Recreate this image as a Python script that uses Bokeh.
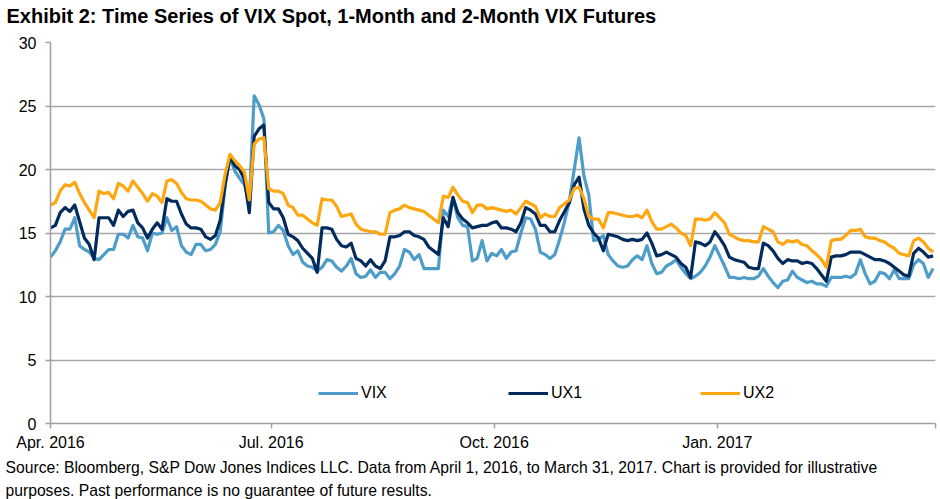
import pandas as pd
from bokeh.plotting import figure
from bokeh.models import Range1d, FixedTicker, Title, Legend, LegendItem
from bokeh.embed import file_html
from bokeh.resources import INLINE

# ---- data (every second calendar day from 2016-04-01) ----
start_date = "2016-04-01"
vix = [13.1, 13.6, 14.3, 15.3, 15.3, 16.2, 14.0, 13.7, 13.5, 13.0,
       12.9, 13.3, 13.7, 13.7, 14.9, 14.9, 14.6, 15.6, 14.7, 14.6,
       13.6, 15.0, 14.9, 15.0, 16.2, 15.2, 15.5, 14.0, 13.5, 13.3,
       14.1, 14.1, 13.6, 13.7, 14.1, 15.1, 18.7, 20.9, 19.9, 19.3,
       18.8, 17.4, 25.8, 25.1, 24.0, 15.0, 15.1, 15.6, 15.2, 14.0,
       13.3, 13.6, 12.7, 12.4, 12.3, 12.0, 12.3, 12.9, 12.8, 12.3,
       12.0, 12.4, 13.0, 11.8, 11.5, 11.6, 12.1, 11.5, 11.9, 11.9,
       11.4, 11.8, 12.4, 13.7, 13.5, 12.9, 13.3, 12.2, 12.2, 12.2,
       12.2, 16.8, 16.3, 17.8, 16.2, 15.6, 15.5, 12.8, 13.0, 14.4,
       12.8, 13.4, 13.2, 13.7, 13.0, 13.5, 13.6, 15.0, 16.2, 16.1,
       15.3, 13.5, 13.3, 13.0, 13.3, 14.5, 15.9, 17.5, 20.0, 22.5,
       19.5, 18.0, 14.4, 14.5, 14.8, 13.3, 12.8, 12.4, 12.3, 12.4,
       12.9, 13.2, 12.9, 14.0, 12.6, 11.8, 11.9, 12.4, 12.6, 12.9,
       12.3, 11.8, 11.4, 11.6, 11.9, 12.4, 13.1, 14.0, 13.2, 12.4,
       11.5, 11.5, 11.4, 11.5, 11.4, 11.4, 11.6, 12.2, 11.6, 11.1,
       10.7, 11.2, 11.3, 12.0, 11.5, 11.3, 11.1, 11.2, 11.0, 11.0,
       10.8, 11.5, 11.5, 11.5, 11.6, 11.5, 11.8, 12.9, 11.8, 11.0,
       11.2, 11.9, 11.8, 11.4, 12.1, 11.4, 11.4, 11.4, 12.5, 12.9,
       12.6, 11.5, 12.2]
ux1 = [15.4, 15.6, 16.6, 17.0, 16.7, 17.2, 15.9, 14.6, 14.1, 12.9,
       16.2, 16.2, 16.2, 15.6, 16.8, 16.3, 16.7, 16.8, 15.8, 15.4,
       14.6, 15.3, 15.8, 15.3, 17.7, 17.5, 17.5, 16.5, 15.7, 15.4,
       15.4, 15.3, 14.7, 14.5, 14.8, 16.0, 18.8, 21.0, 20.3, 20.0,
       19.2, 16.6, 22.6, 23.2, 23.5, 17.4, 16.9, 16.9, 16.2, 14.9,
       14.7, 14.4, 13.8, 13.4, 13.0, 11.9, 15.4, 15.4, 15.3, 14.5,
       14.0, 13.9, 14.2, 13.0, 12.8, 12.4, 12.9, 12.4, 12.2, 12.8,
       14.7, 14.7, 14.8, 15.1, 15.1, 14.8, 14.7, 14.5, 13.9, 13.6,
       13.3, 16.2, 15.5, 17.8, 16.6, 16.1, 15.8, 15.4, 15.5, 15.6,
       15.6, 15.8, 15.9, 15.4, 15.4, 15.3, 15.1, 15.8, 17.0, 16.8,
       16.5, 15.6, 15.6, 15.1, 15.1, 16.0, 16.7, 17.4, 18.8, 19.4,
       16.9, 15.6, 15.0, 14.6, 13.6, 14.9, 14.8, 14.7, 14.5, 14.4,
       14.5, 14.4, 14.5, 15.0, 14.2, 13.2, 13.3, 13.5, 13.3, 13.1,
       12.6, 12.3, 11.5, 14.3, 14.2, 14.0, 14.3, 15.1, 14.6, 14.0,
       13.1, 12.9, 12.8, 12.7, 12.3, 12.2, 12.2, 14.2, 14.0, 13.6,
       13.0, 12.6, 12.9, 12.8, 12.8, 12.6, 12.7, 12.6, 12.2, 11.7,
       11.2, 13.1, 13.2, 13.2, 13.3, 13.5, 13.5, 13.5, 13.3, 13.1,
       12.9, 12.9, 12.8, 12.6, 12.3, 12.0, 11.7, 11.6, 13.4, 13.8,
       13.5, 13.1, 13.2]
ux2 = [17.2, 17.4, 18.3, 18.8, 18.7, 19.0, 18.1, 17.4, 16.8, 16.2,
       18.3, 18.1, 18.2, 17.7, 18.9, 18.7, 18.3, 19.1, 18.6, 18.1,
       17.5, 18.1, 17.9, 17.4, 19.1, 19.2, 18.9, 18.2, 17.7, 17.6,
       17.6, 17.5, 17.2, 16.9, 16.8, 17.4, 19.6, 21.2, 20.7, 20.3,
       19.8, 17.6, 22.0, 22.4, 22.5, 18.5, 18.3, 18.3, 18.1, 17.2,
       17.0, 16.4, 16.4, 16.1, 15.8, 15.6, 17.7, 17.6, 17.6, 17.1,
       16.3, 16.4, 16.5, 15.7, 15.3, 15.2, 15.1, 15.1, 14.9, 14.9,
       16.6, 16.8, 16.9, 17.2, 17.0, 16.9, 16.8, 16.7, 16.4, 16.1,
       15.8, 17.9, 17.8, 18.6, 18.0, 17.5, 17.4, 16.6, 17.2, 17.2,
       16.9, 17.0, 16.9, 16.8, 16.7, 16.8, 16.5, 17.0, 17.5, 17.3,
       17.1, 16.2, 16.5, 16.3, 16.3, 17.0, 17.3, 17.6, 18.5, 18.6,
       17.7, 16.3, 16.1, 16.1, 15.4, 16.6, 16.6, 16.5, 16.4, 16.3,
       16.3, 16.4, 16.2, 16.8, 15.9, 15.3, 15.3, 15.5, 15.7, 15.4,
       15.0, 14.8, 14.0, 16.1, 16.1, 16.0, 16.1, 16.6, 16.2, 15.8,
       14.9, 14.7, 14.5, 14.4, 14.4, 14.3, 14.3, 15.5, 15.3, 15.1,
       14.3, 14.1, 14.4, 14.3, 14.4, 14.1, 14.0, 13.6, 13.3, 12.9,
       12.3, 14.4, 14.5, 14.5, 14.8, 15.2, 15.2, 15.3, 14.7, 14.6,
       14.6, 14.4, 14.3, 14.0, 13.8, 13.4, 13.3, 13.2, 14.4, 14.6,
       14.3, 13.8, 13.5]
series_names = ["VIX", "UX1", "UX2"]
tick_dates = ["2016-04-01", "2016-07-01", "2016-10-01", "2017-01-01", "2017-04-01"]
tick_labels = ["Apr. 2016", "Jul. 2016", "Oct. 2016", "Jan. 2017", ""]
y_ticks = [0, 5, 10, 15, 20, 25, 30]

title_text = "Exhibit 2: Time Series of VIX Spot, 1-Month and 2-Month VIX Futures"
source_1 = ("Source: Bloomberg, S&P Dow Jones Indices LLC.  Data from April 1, 2016, to "
            "March 31, 2017.  Chart is provided for illustrative")
source_2 = "purposes.  Past performance is no guarantee of future results."

colors = ["#4E9DC8", "#002B5C", "#FFA710"]
FONT = "Liberation Sans"

dates = pd.date_range(start_date, periods=len(vix), freq="2D")

p = figure(width=940, height=499, x_axis_type="datetime",
           output_backend="svg", toolbar_location=None,
           x_range=Range1d(pd.Timestamp("2016-04-01"), pd.Timestamp("2017-04-01")),
           y_range=Range1d(0, 30),
           min_border_left=50, min_border_right=5, min_border_top=42,
           min_border_bottom=10)
p.outline_line_color = None
p.background_fill_color = "white"
p.border_fill_color = "white"

# title: a small blank spacer next to the frame, then the heading above it
spacer = Title(text=" ", text_font=FONT, text_font_size="8px", standoff=5)
p.add_layout(spacer, "above")
heading = Title(text=title_text, text_font=FONT, text_font_style="bold",
                text_font_size="20px", text_color="#000000", align="left",
                offset=-44, standoff=0)
p.add_layout(heading, "above")

renderers = []
for vals, col in zip([vix, ux1, ux2], colors):
    r = p.line(dates, vals, line_color=col, line_width=3.2, line_join="round")
    renderers.append(r)

# axes
tick_ms = [pd.Timestamp(d).value // 10**6 for d in tick_dates]
p.xaxis.ticker = FixedTicker(ticks=tick_ms)
p.xaxis.major_label_overrides = {t: l for t, l in zip(tick_ms, tick_labels)}
p.yaxis.ticker = FixedTicker(ticks=y_ticks)
for ax in (p.xaxis, p.yaxis):
    ax.axis_line_color = "#A0A0A0"
    ax.axis_line_width = 1.5
    ax.major_tick_line_color = "#A0A0A0"
    ax.major_tick_line_width = 1.5
    ax.minor_tick_line_color = None
    ax.major_tick_in = 0
    ax.major_tick_out = 5
    ax.major_label_text_font = FONT
    ax.major_label_text_font_size = "16px"
    ax.major_label_text_color = "#000000"
p.xaxis.major_label_standoff = 5
p.yaxis.major_label_standoff = 9

p.xgrid.grid_line_color = None
p.ygrid.grid_line_color = "#A6A6A6"
p.ygrid.grid_line_width = 1.6

# legends: one per series
leg_x = [268, 458, 650]
for name, r, lx in zip(series_names, renderers, leg_x):
    leg = Legend(items=[LegendItem(label=name, renderers=[r])],
                 location=(lx, 20), orientation="horizontal",
                 glyph_width=40, glyph_height=20, label_standoff=3,
                 padding=0, margin=0, border_line_alpha=0,
                 background_fill_alpha=0,
                 label_text_font=FONT, label_text_font_size="16px",
                 label_text_color="#000000")
    p.add_layout(leg)

# source notes below
for txt, so in zip([source_1, source_2], [7, 1]):
    t = Title(text=txt, align="left", offset=-45, text_font=FONT,
              text_font_size="15.7px", text_font_style="normal",
              text_color="#000000", standoff=so)
    p.add_layout(t, "below")

open("out.html", "w").write(file_html(p, INLINE))
